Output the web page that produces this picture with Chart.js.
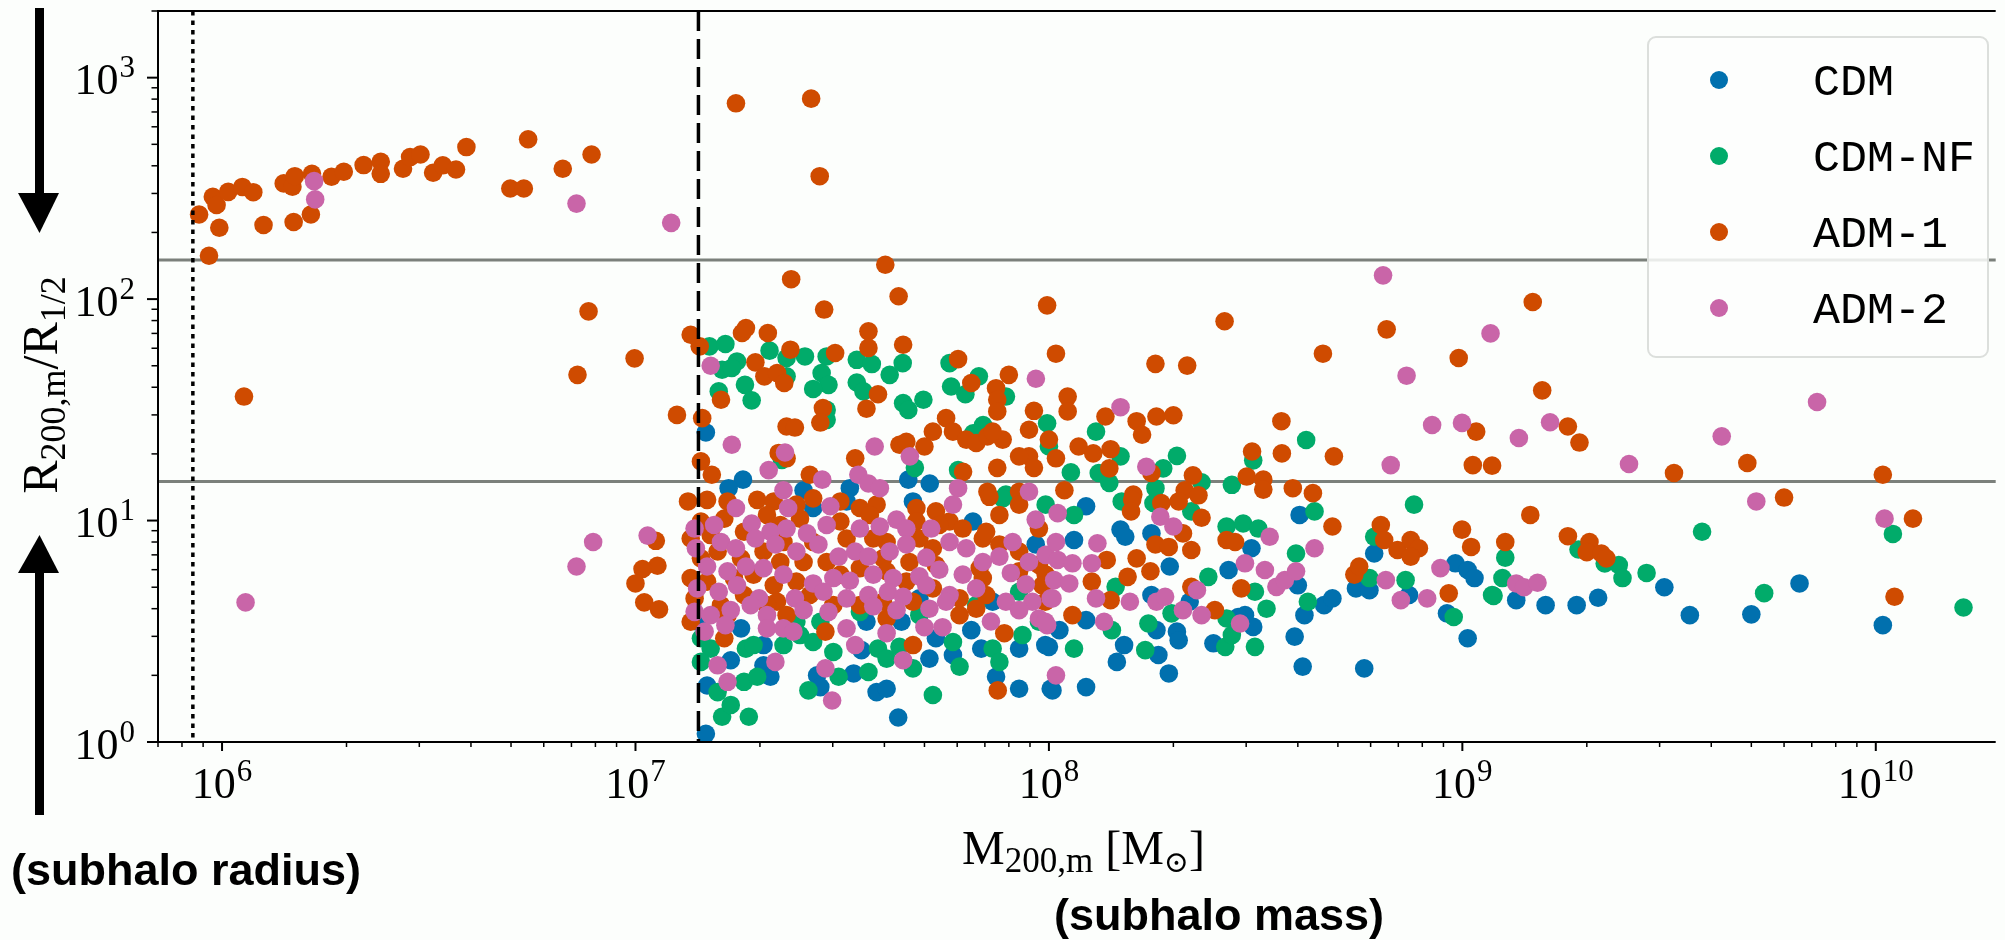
<!DOCTYPE html>
<html>
<head>
<meta charset="utf-8">
<script src="https://cdn.jsdelivr.net/npm/chart.js@4.4.0/dist/chart.umd.min.js"></script>
<style>
html, body { margin: 0; padding: 0; background: #fcfefc; overflow: hidden; }
canvas { display: block; }
</style>
</head>
<body>
<canvas id="c" width="2005" height="940"></canvas>
<script>
// --- data: [M200,m (Msun), R200,m / R1/2] ---
const seriesNames = ["CDM", "CDM-NF", "ADM-1", "ADM-2"];
const seriesColors = ["#0170ae", "#01ab6a", "#cf4b00", "#c965a8"];

const cdmPoints = [
  [1.48e7,25],[1.82e7,15.3],[1.68e7,14],[4.57e7,15.3],[5.15e7,14.7],[3.3e7,14],[2.55e7,13.7],
  [1.41e7,3.49],[1.8e7,3.26],[2.04e7,2.74],[2.04e7,2.22],[2.12e7,1.97],[1.7e7,2.34],[1.49e7,1.8],
  [2.75e7,2.0],[2.8e7,1.77],[3.37e7,2.04],[3.52e7,2.6],[3.83e7,1.68],[4.05e7,1.74],[4.32e7,1.29],
  [5.14e7,2.38],[5.33e7,2.94],[6.49e7,3.2],[6.86e7,2.64],[7.45e7,1.97],[8.47e7,1.74],[8.47e7,2.64],
  [1.0e8,2.69],[1.01e8,1.74],[1.48e7,1.09],[5.86e7,2.47],[3.62e7,3.49],[4.4e7,3.49],[4.86e7,4.45],
  [7.31e7,4.3],[9.29e7,7.8],[6.55e7,9.9],[4.69e7,12.2],[3.24e7,12.2],[2.69e7,11.4],
  [1.23e8,11.6],[4.04e8,10.6],[1.15e8,8.17],[1.49e8,9.1],[1.53e8,8.45],[1.77e8,8.75],[3.09e8,7.5],
  [1.96e8,6.2],[2.72e8,5.98],[1.77e8,4.61],[2.19e8,4.3],[4.0e8,5.1],[4.15e8,3.74],[4.63e8,4.15],
  [4.85e8,4.45],[2.98e8,3.74],[3.12e8,3.31],[2.87e8,3.67],[1.23e8,3.55],[1.06e8,3.2],[9.8e7,2.74],
  [1.52e8,2.74],[1.46e8,2.3],[1.82e8,3.2],[2.04e8,3.15],[2.06e8,2.88],[1.84e8,2.47],[1.95e8,2.04],
  [2.5e8,2.79],[3.93e8,2.99],[4.11e8,2.19],[5.79e8,2.15],[1.23e8,1.77],[1.02e8,1.71],[6.12e8,7.1],
  [5.53e8,4.94],[5.96e8,4.85],[9.62e8,6.41],[1.03e9,5.98],[1.07e9,5.5],[7.43e8,4.61],[9.18e8,3.81],
  [1.03e9,2.94],[1.35e9,4.37],[1.59e9,4.15],[1.89e9,4.15],[2.13e9,4.48],[3.08e9,5.0],[3.55e9,3.74],
  [5.0e9,3.77],[6.54e9,5.2],[1.04e10,3.37]
];

const cdmNfPoints = [
  [1.51e7,61.2],[1.65e7,62.7],[2.11e7,58.5],[2.32e7,54.2],[2.57e7,55.1],[2.9e7,55.1],[1.62e7,48],
  [1.76e7,52.3],[1.71e7,48.9],[2.32e7,44.8],[1.84e7,41],[1.59e7,38.3],[1.91e7,34.9],[2.82e7,46.4],
  [2.93e7,41],[2.69e7,39.3],[3.43e7,53.2],[3.73e7,50.9],[3.43e7,42],[3.56e7,38.3],[4.12e7,45.5],
  [4.43e7,51.4],[4.44e7,33.9],[4.57e7,31.6],[4.97e7,35.1],[5.75e7,51.4],[5.8e7,40.3],[6.28e7,37.2],
  [6.77e7,44.8],[7.87e7,36.3],[2.9e7,31.6],[2.9e7,28.5],[6.93e7,27],[9.9e7,27.5],[6.56e7,24.8],
  [1e8,21.6],[4.74e7,17.3],[6.03e7,16.9],[2.26e7,18.8],[7.87e7,13.1],
  [1.44e7,2.94],[1.52e7,2.64],[1.44e7,2.3],[1.58e7,1.68],[1.62e7,1.3],[1.7e7,1.47],[1.88e7,1.3],
  [1.83e7,1.87],[1.97e7,1.97],[1.85e7,2.64],[1.93e7,2.74],[2.28e7,2.74],[2.5e7,3.04],[2.69e7,2.83],
  [2.62e7,1.71],[3.01e7,2.55],[3.1e7,1.97],[3.66e7,2.07],[3.86e7,2.64],[4.05e7,2.38],[4.35e7,2.69],
  [4.69e7,2.15],[5.24e7,1.63],[5.86e7,2.83],[6.08e7,2.19],[7.31e7,2.64],[7.59e7,2.3],[8.63e7,3.04],
  [9.46e7,3.49],[7.73e7,12.6],[9.82e7,11.8],[2.45e7,3.49],[2.8e7,3.49],[3.49e7,3.87],[4.86e7,3.74],
  [6.67e7,4.15],[8.47e7,4.77],
  [1.3e8,25.2],[1.49e8,19.5],[1.13e8,16.5],[1.32e8,16.4],[1.4e8,14.8],[1.89e8,17.2],[2.04e8,19.6],
  [1.81e8,14.0],[2.34e8,14.9],[2.77e8,14.5],[3.12e8,18.7],[4.19e8,23.1],
  [1.5e8,12.2],[1.79e8,12.0],[2.21e8,11.0],[4.39e8,11.0],[1.15e8,10.6],[2.69e8,9.4],[2.95e8,9.7],
  [3.21e8,9.2],[3.96e8,7.1],[2.43e8,5.57],[3.15e8,4.77],[3.36e8,4.0],[2.69e8,3.61],[1.74e8,3.43],
  [1.98e8,3.81],[1.71e8,2.6],[2.67e8,2.69],[3.15e8,2.69],[1.15e8,2.64],[1.45e8,5.02],[1.42e8,3.2],
  [4.23e8,4.3],[2.77e8,3.04],[7.64e8,11.8],[6.12e8,8.45],[5.96e8,5.5],[7.29e8,5.38],[9.53e8,3.67],
  [1.18e9,4.61],[1.27e9,6.8],[1.25e9,5.5],[1.19e9,4.57],[1.91e9,7.4],[2.21e9,6.4],[2.39e9,6.3],
  [2.44e9,5.5],[2.79e9,5.8],[3.8e9,8.9],[5.37e9,4.7],[1.1e10,8.7],[1.63e10,4.05]
];

const adm1Points = [
  [8.8e5,241],[9.3e5,157],[9.5e5,290],[9.7e5,266],[9.85e5,210],[1.035e6,305],[1.12e6,321],
  [1.19e6,304],[1.26e6,216],[1.41e6,333],[1.48e6,322],[1.5e6,359],[1.49e6,223],[1.64e6,241],
  [1.65e6,368],[1.84e6,357],[1.97e6,376],[2.2e6,403],[2.42e6,417],[2.42e6,368],[2.74e6,388],
  [2.85e6,438],[3.02e6,450],[3.24e6,372],[3.42e6,402],[3.68e6,385],[3.9e6,486],[4.98e6,316],
  [5.37e6,316],[5.5e6,527],[6.67e6,388],[7.83e6,450],[7.7e6,88],[7.24e6,45.5],[9.95e6,54],
  [1.36e7,69],[1.13e6,36.3],
  [1.26e7,30],[1.12e7,8.1],[1.13e7,6.25],[1.04e7,6.04],[1.0e7,5.2],[1.05e7,4.27],[1.14e7,3.97],
  [1.75e7,766],[2.66e7,804],[2.79e7,359],[4.02e7,143],[2.38e7,123],[4.33e7,103],[2.86e7,89.7],
  [9.9e7,93.7],[2.66e8,79.4],[4.6e8,56.7],[1.81e8,51],[2.16e8,50.1],[1.04e8,56.7],
  [1.43e7,61.2],[1.81e7,70.3],[1.85e7,74],[2.09e7,70.3],[2.37e7,59.1],[3.04e7,57.1],[3.66e7,71.5],
  [3.66e7,60.2],[4.44e7,62.2],[1.95e7,51.8],[2.05e7,44.8],[2.2e7,46.4],[2.29e7,41.8],[1.61e7,35.1],
  [3.86e7,37.2],[3.62e7,32],[2.84e7,32.2],[2.8e7,27.7],[2.32e7,26.6],[2.43e7,26.3],[1.45e7,29],
  [1.44e7,18.5],[1.53e7,16.1],[6.03e7,53.6],[6.49e7,41.8],[7.45e7,39.6],[7.5e7,35.1],[7.5e7,31.1],
  [8.0e7,45.5],[9.2e7,31.3],[8.95e7,25.7],[5.64e7,29],[5.86e7,25.2],[5.24e7,25.2],[5.0e7,21.6],
  [4.35e7,22],[4.52e7,22.7],[6.31e7,23.2],[6.67e7,22.4],[7.1e7,24],[7.73e7,23.2],[7.31e7,25.2],
  [1.0e8,23.2],[8.95e7,19.5],[9.2e7,17.3],[7.5e7,17.3],[8.47e7,19.5],[3.4e7,19.1],[6.2e7,16.6],
  [2.64e7,16.1],[2.22e7,20.2],[2.32e7,19.1],[7.1e7,13.5],[8.47e7,13.5],
  [1.34e7,12.2],[1.49e7,12.4],[1.67e7,12.2],[1.97e7,12.4],[2.16e7,12.2],[2.45e7,11.8],[2.69e7,12.6],
  [3.13e7,12.2],[3.49e7,11.4],[3.83e7,11.8],[4.78e7,11.4],[5.33e7,11.0],[5.75e7,9.9],[7.18e7,12.8],
  [7.59e7,10.6],[8.47e7,11.8],[9.46e7,9.2],[1.44e7,9.9],[1.64e7,10.2],[2.08e7,10.6],[2.24e7,9.55],
  [2.5e7,10.2],[3.13e7,9.9],[3.69e7,10.6],[4.05e7,8.0],[4.78e7,9.9],[5.43e7,9.55],[6.19e7,9.2],
  [6.92e7,8.3],[7.59e7,7.8],[8.47e7,7.25],[1.36e7,8.3],[1.52e7,8.6],[1.83e7,8.9],[2.04e7,7.25],
  [2.28e7,8.0],[2.69e7,8.0],[3.24e7,8.3],[3.76e7,8.3],[4.86e7,8.3],[5.24e7,7.5],[7.05e7,8.9],
  [9.46e7,6.3],[1.44e7,6.75],[1.58e7,7.25],[1.8e7,6.75],[2.24e7,6.5],[2.55e7,6.5],[2.9e7,6.5],
  [3.49e7,6.1],[3.97e7,6.75],[4.6e7,6.5],[5.33e7,6.3],[6.8e7,6.1],[8.47e7,5.9],[9.82e7,5.7],
  [1.36e7,5.5],[1.49e7,5.3],[1.73e7,5.5],[1.93e7,5.7],[2.16e7,5.1],[2.45e7,5.3],[3.13e7,5.7],
  [4.05e7,5.9],[4.52e7,5.3],[5.24e7,4.94],[6.92e7,5.5],[9.64e7,5.1],[1.39e7,4.45],[1.61e7,4.15],
  [1.83e7,4.61],[2.2e7,4.3],[2.64e7,4.61],[3.01e7,4.15],[3.49e7,4.15],[3.97e7,4.3],[4.69e7,4.3],
  [6.08e7,4.45],[7.05e7,4.61],[1.36e7,3.49],[1.67e7,3.74],[2.08e7,4.15],[2.32e7,3.74],[4.05e7,3.61],
  [6.08e7,3.74],[6.67e7,4.0],[1.64e7,2.94],[2.88e7,3.15],[4.69e7,2.74],[7.8e7,3.1],[7.52e7,1.71],
  [6.56e8,73],[9.8e8,54.2],[1.11e8,36.3],[1.11e8,31.1],[1.37e8,29.5],[1.63e8,28.1],[1.68e8,24.4],
  [1.82e8,29.5],[2.0e8,29.9],[3.65e8,28.1],[1.18e8,21.6],[1.28e8,20.1],[1.41e8,21],[1.04e8,19.1],
  [1.4e8,17.2],[1.77e8,16.4],[2.23e8,16],[3.1e8,20.5],[3.66e8,20.1],[4.89e8,19.5],[3.01e8,15.8],
  [3.3e8,15.3],[3.3e8,13.8],[3.89e8,14.0],[4.35e8,13.3],[1.08e9,25.2],[1.06e9,17.8],[1.18e9,17.7],
  [1.09e8,13.7],[1.6e8,13.1],[2.13e8,13.7],[2.3e8,13.0],
  [1.59e8,12.4],[1.87e8,12.0],[2.06e8,12.2],[1.58e8,11.0],[2.34e8,10.3],[4.85e8,9.4],[2.11e8,8.75],
  [1.81e8,7.8],[1.95e8,7.6],[2.69e8,8.17],[2.82e8,8.0],[2.21e8,7.36],[1.38e8,6.64],[1.63e8,6.75],
  [1.76e8,5.9],[1.55e8,5.57],[1.27e8,5.3],[1.14e8,3.74],[1.41e8,4.37],[2.21e8,5.02],[2.92e8,4.94],
  [2.52e8,3.94],[9.8e7,4.3],[5.48e8,5.7],[5.63e8,6.2],[6.35e8,9.55],[6.47e8,8.17],[6.97e8,7.36],
  [7.5e8,8.17],[7.85e8,7.5],[7.5e8,6.87],[9.98e8,9.1],[1.05e9,7.6],[9.27e8,4.69],
  [1.48e9,97],[1.56e9,38.7],[1.8e9,26.6],[1.92e9,22.5],[3.25e9,16.4],[4.89e9,18.2],[1.04e10,16.1],
  [1.46e9,10.6],[6.0e9,12.7],[1.27e9,8.0],[1.8e9,8.5],[2.03e9,8.0],[2.0e9,7.2],[2.17e9,7.1],
  [2.23e9,6.75],[1.23e10,10.2],[1.11e10,4.53]
];

const adm2Points = [
  [1.67e6,341],[1.68e6,282],[7.2e6,270],[1.22e7,221],[1.14e6,4.27],[7.2e6,6.2],[7.9e6,8.0],
  [1.07e7,8.55],[9.3e7,43.7],
  [1.52e7,50],[1.71e7,22],[3.79e7,21.6],[4.61e7,19.5],[2.3e7,20.3],[2.1e7,16.9],[2.83e7,15.3],
  [3.46e7,16.1],[3.66e7,14.7],[3.9e7,14],[6.03e7,14],[8.95e7,13.5],[2.28e7,13.7],
  [1.75e7,11.4],[2.34e7,11.4],[2.96e7,11.6],[1.39e7,9.2],[1.55e7,9.55],[1.91e7,9.7],[2.12e7,8.9],
  [2.32e7,9.2],[2.6e7,8.75],[2.9e7,9.55],[3.49e7,9.2],[3.9e7,9.4],[4.28e7,10.1],[4.52e7,9.2],
  [5.19e7,9.2],[5.86e7,11.8],[9.29e7,10.1],[8.17e7,8.0],[1.4e7,7.5],[1.61e7,8.0],[1.75e7,7.5],
  [1.95e7,8.3],[2.18e7,7.8],[2.45e7,7.25],[2.77e7,7.8],[3.1e7,6.87],[3.4e7,7.25],[3.66e7,6.87],
  [4.12e7,7.25],[4.52e7,7.8],[5.05e7,6.8],[5.75e7,8.0],[6.31e7,7.5],[6.92e7,6.5],[7.59e7,6.87],
  [8.95e7,6.5],[9.82e7,7.0],[1.49e7,6.2],[1.67e7,5.9],[1.85e7,6.2],[2.04e7,6.1],[2.28e7,5.7],
  [2.69e7,5.2],[3.01e7,5.5],[3.3e7,5.35],[3.76e7,5.7],[4.2e7,5.5],[4.86e7,5.6],[5.43e7,6.0],
  [6.19e7,5.7],[8.09e7,5.8],[8.79e7,5.15],[1.41e7,4.94],[1.59e7,4.77],[1.76e7,5.1],[1.99e7,4.45],
  [2.43e7,4.45],[2.85e7,4.77],[3.24e7,4.45],[3.66e7,4.61],[4.08e7,4.77],[4.44e7,4.53],[5.05e7,5.1],
  [5.75e7,4.61],[6.67e7,4.94],[7.87e7,4.3],[9.12e7,4.3],[1.01e8,4.45],[1.39e7,3.87],[1.52e7,3.74],
  [1.7e7,3.94],[1.9e7,4.15],[2.08e7,3.74],[2.55e7,3.94],[2.93e7,3.87],[3.76e7,4.1],[4.28e7,3.94],
  [5.14e7,4.0],[5.64e7,4.3],[8.47e7,3.94],[9.46e7,3.61],[9.9e7,3.37],[1.47e7,3.15],[1.65e7,3.37],
  [2.08e7,3.26],[2.28e7,3.26],[2.41e7,3.15],[3.24e7,3.26],[4.05e7,3.1],[5.0e7,3.3],[5.53e7,3.3],
  [7.24e7,3.5],[3.4e7,2.74],[4.44e7,2.34],[1.58e7,2.22],[1.67e7,1.87],[2.18e7,2.3],[2.88e7,2.15],
  [2.99e7,1.54],[1.04e8,2.0],
  [6.43e8,128],[7.33e8,45.1],[1.17e9,70],[1.49e8,32.5],[1.72e8,17.5],[8.45e8,27],[9.98e8,27.6],
  [6.71e8,17.8],
  [1.05e8,10.8],[1.86e8,10.4],[2.0e8,9.4],[3.42e8,8.45],[4.39e8,7.5],[1.04e8,8.0],[1.05e8,6.64],
  [1.14e8,6.41],[1.27e8,6.41],[1.31e8,7.9],[1.03e8,5.38],[1.12e8,5.2],[1.02e8,4.45],[1.3e8,4.45],
  [9.8e7,3.49],[1.36e8,3.49],[1.57e8,4.3],[1.82e8,4.3],[1.91e8,4.53],[2.11e8,3.94],[2.34e8,3.74],
  [2.28e8,4.85],[2.9e8,3.43],[2.98e8,6.41],[3.33e8,5.98],[3.55e8,5.02],[3.72e8,5.38],[3.96e8,5.9],
  [6.53e8,5.38],[7.1e8,4.37],[8.22e8,4.45],[8.85e8,6.1],
  [1.63e9,27.8],[1.37e9,23.6],[2.53e9,18.0],[4.24e9,24.0],[7.21e9,34.3],[5.14e9,12.2],[1.05e10,10.2],
  [1.35e9,5.2],[1.41e9,5.0],[1.52e9,5.24]
];

const allSeries = [cdmPoints, cdmNfPoints, adm1Points, adm2Points];

// axis ranges, tick exponents, reference lines
const xRange = [7e5, 1.95e10];
const yRange = [1, 2000];
const xTickExps = [6, 7, 8, 9, 10];
const yTickExps = [0, 1, 2, 3];
const refRatios = [150, 15];
const resolutionMass = 8.5e5;   // dotted line
const convergenceMass = 1.42e7; // dashed line

const SERIF = '"Liberation Serif", "DejaVu Serif", serif';

function pow10Label(ctx, exp, x, baseY, align) {
    ctx.font = '44px ' + SERIF;
    const w1 = ctx.measureText('10').width;
    ctx.font = '31px ' + SERIF;
    const w2 = ctx.measureText(String(exp)).width;
    const total = w1 + 1 + w2;
    const x0 = align === 'center' ? x - total / 2 : x - total;
    ctx.textAlign = 'left';
    ctx.textBaseline = 'alphabetic';
    ctx.font = '44px ' + SERIF;
    ctx.fillText('10', x0, baseY);
    ctx.font = '31px ' + SERIF;
    ctx.fillText(String(exp), x0 + w1 + 1, baseY - 17);
}

// text made of pieces with their own size and vertical shift
function runsWidth(ctx, runs) {
    let w = 0;
    runs.forEach(r => { ctx.font = r.size + 'px ' + SERIF; w += ctx.measureText(r.t).width; });
    return w;
}
function drawRuns(ctx, runs, x, y) {
    let cx = x;
    ctx.textAlign = 'left';
    ctx.textBaseline = 'alphabetic';
    runs.forEach(r => {
        ctx.font = r.size + 'px ' + SERIF;
        ctx.fillText(r.t, cx, y + (r.dy || 0));
        cx += ctx.measureText(r.t).width;
    });
}

const decor = {
    id: 'decor',
    beforeDraw(chart) {
        const ctx = chart.ctx;
        ctx.save();
        ctx.fillStyle = '#fcfefc';
        ctx.fillRect(0, 0, chart.width, chart.height);
        ctx.restore();
    },
    beforeDatasetsDraw(chart) {
        const { ctx, chartArea: a, scales: { y } } = chart;
        ctx.save();
        ctx.strokeStyle = '#7b807b';
        ctx.lineWidth = 3;
        refRatios.forEach(v => {
            const py = y.getPixelForValue(v);
            ctx.beginPath(); ctx.moveTo(a.left, py); ctx.lineTo(a.right, py); ctx.stroke();
        });
        ctx.restore();
    },
    afterDatasetsDraw(chart) {
        const { ctx, chartArea: a, scales: { x, y } } = chart;
        ctx.save();

        // vertical reference lines
        ctx.strokeStyle = '#000';
        ctx.lineWidth = 3.5;
        ctx.setLineDash([4.5, 5]);
        let px = x.getPixelForValue(resolutionMass);
        ctx.beginPath(); ctx.moveTo(px, a.top); ctx.lineTo(px, a.bottom); ctx.stroke();
        ctx.setLineDash([20, 8]);
        px = x.getPixelForValue(convergenceMass);
        ctx.beginPath(); ctx.moveTo(px, a.top); ctx.lineTo(px, a.bottom); ctx.stroke();
        ctx.setLineDash([]);

        // spines (left, bottom, top)
        ctx.lineWidth = 2;
        ctx.beginPath();
        ctx.moveTo(a.right, a.top); ctx.lineTo(a.left, a.top);
        ctx.lineTo(a.left, a.bottom); ctx.lineTo(a.right, a.bottom);
        ctx.stroke();

        // tick marks
        for (let d = 5; d <= 10; d++) {
            for (let k = 1; k <= 9; k++) {
                const v = k * Math.pow(10, d);
                if (v < xRange[0] || v > xRange[1]) continue;
                const p = x.getPixelForValue(v);
                ctx.lineWidth = k === 1 ? 2 : 1.5;
                ctx.beginPath(); ctx.moveTo(p, a.bottom); ctx.lineTo(p, a.bottom + (k === 1 ? 9 : 5)); ctx.stroke();
            }
        }
        for (let d = 0; d <= 3; d++) {
            for (let k = 1; k <= 9; k++) {
                const v = k * Math.pow(10, d);
                if (v < yRange[0] || v > yRange[1]) continue;
                const p = y.getPixelForValue(v);
                ctx.lineWidth = k === 1 ? 2 : 1.5;
                ctx.beginPath(); ctx.moveTo(a.left, p); ctx.lineTo(a.left - (k === 1 ? 11 : 6.5), p); ctx.stroke();
            }
        }

        // tick labels
        ctx.fillStyle = '#000';
        xTickExps.forEach(e => pow10Label(ctx, e, x.getPixelForValue(Math.pow(10, e)), 798, 'center'));
        yTickExps.forEach(e => pow10Label(ctx, e, 135, y.getPixelForValue(Math.pow(10, e)) + 16.5, 'right'));

        // x title
        const xRuns = [
            { t: 'M', size: 48 }, { t: '200,m', size: 35, dy: 8 },
            { t: ' [M', size: 48 }, { t: '\u2299', size: 30, dy: 8 }, { t: ']', size: 48 }
        ];
        drawRuns(ctx, xRuns, 962, 864);

        // y title, rotated
        const yRuns = [
            { t: 'R', size: 50 }, { t: '200,m', size: 36, dy: 8 },
            { t: '/R', size: 50 }, { t: '1/2', size: 36, dy: 8 }
        ];
        const yw = runsWidth(ctx, yRuns);
        ctx.save();
        ctx.translate(57, 385);
        ctx.rotate(-Math.PI / 2);
        drawRuns(ctx, yRuns, -yw / 2, 0);
        ctx.restore();

        // legend
        const lx = 1648, ly = 37, lw = 340, lh = 320, r = 8;
        ctx.beginPath();
        ctx.moveTo(lx + r, ly); ctx.lineTo(lx + lw - r, ly); ctx.arcTo(lx + lw, ly, lx + lw, ly + r, r);
        ctx.lineTo(lx + lw, ly + lh - r); ctx.arcTo(lx + lw, ly + lh, lx + lw - r, ly + lh, r);
        ctx.lineTo(lx + r, ly + lh); ctx.arcTo(lx, ly + lh, lx, ly + lh - r, r);
        ctx.lineTo(lx, ly + r); ctx.arcTo(lx, ly, lx + r, ly, r);
        ctx.closePath();
        ctx.fillStyle = 'rgba(253,254,253,0.85)';
        ctx.fill();
        ctx.strokeStyle = '#dcdfdc';
        ctx.lineWidth = 2;
        ctx.stroke();
        seriesNames.forEach((name, i) => {
            const rowY = 80 + i * 76;
            ctx.fillStyle = seriesColors[i];
            ctx.beginPath(); ctx.arc(1719, rowY, 9, 0, Math.PI * 2); ctx.fill();
            ctx.fillStyle = '#000';
            ctx.font = '45px "Liberation Mono", "DejaVu Sans Mono", monospace';
            ctx.textAlign = 'left';
            ctx.textBaseline = 'alphabetic';
            ctx.fillText(name, 1813, rowY + 15);
        });

        // annotation arrows
        ctx.fillStyle = '#000';
        ctx.fillRect(35, 8, 9, 187);
        ctx.beginPath(); ctx.moveTo(18, 193); ctx.lineTo(59, 193); ctx.lineTo(39.5, 233); ctx.closePath(); ctx.fill();
        ctx.fillRect(35, 571, 9, 244);
        ctx.beginPath(); ctx.moveTo(39.5, 535); ctx.lineTo(18, 573); ctx.lineTo(59, 573); ctx.closePath(); ctx.fill();

        // annotation notes
        ctx.font = 'bold 45px "Liberation Sans", Arial, sans-serif';
        ctx.textAlign = 'left';
        ctx.textBaseline = 'alphabetic';
        ctx.fillText('(subhalo radius)', 11, 885);
        ctx.fillText('(subhalo mass)', 1054, 930);

        ctx.restore();
    }
};

const ctx = document.getElementById('c').getContext('2d');
new Chart(ctx, {
    type: 'scatter',
    data: {
        datasets: seriesNames.map((name, i) => ({
            label: name,
            data: allSeries[i].map(p => ({ x: p[0], y: p[1] })),
            backgroundColor: seriesColors[i],
            borderWidth: 0,
            pointRadius: 9.3,
            pointHoverRadius: 9.3,
            order: seriesNames.length - i
        }))
    },
    options: {
        responsive: false,
        animation: false,
        events: [],
        layout: { padding: { left: 158, top: 11, right: 0, bottom: 198 } },
        plugins: { legend: { display: false }, tooltip: { enabled: false } },
        scales: {
            x: { type: 'logarithmic', min: xRange[0], max: xRange[1], display: false },
            y: { type: 'logarithmic', min: yRange[0], max: yRange[1], display: false }
        }
    },
    plugins: [decor]
});
</script>
</body>
</html>
